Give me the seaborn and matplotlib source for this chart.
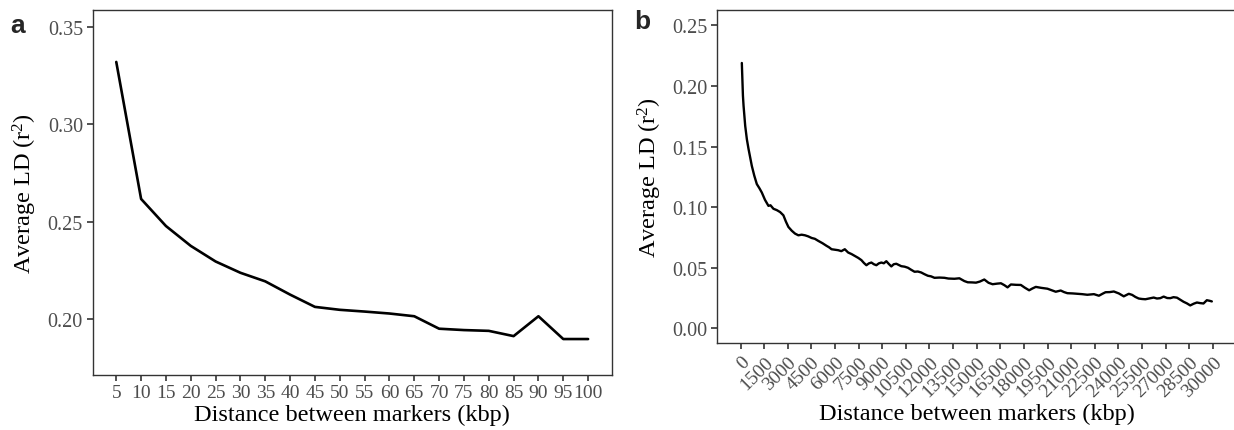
import matplotlib
matplotlib.use('Agg')
import matplotlib.pyplot as plt
import seaborn as sns

# Panel a: average LD for short distances (kbp)
dist_a = [5, 10, 15, 20, 25, 30, 35, 40, 45, 50, 55, 60, 65, 70, 75, 80, 85, 90, 95, 100]
ld_a = [0.332, 0.2617, 0.2478, 0.2376, 0.2296, 0.2238, 0.2194, 0.2126, 0.2063, 0.2048,
        0.2039, 0.2029, 0.2015, 0.1951, 0.1944, 0.1940, 0.1913, 0.2015, 0.1898, 0.1898]

# Panel b: average LD for long distances (kbp)
dist_b = [80, 150, 190, 295, 400, 506, 715, 870, 1032, 1200, 1350, 1550, 1772, 1900, 2088,
          2300, 2510, 2721, 2880, 3038, 3250, 3460, 3671, 3880, 4093, 4300, 4514, 4720, 4936,
          5200, 5462, 5620, 5779, 6000, 6200, 6400, 6621, 6832, 7050, 7254, 7480, 7676, 7840,
          7993, 8150, 8310, 8470, 8626, 8780, 8943, 9100, 9259, 9420, 9575, 9730, 9892, 10050,
          10209, 10420, 10631, 10840, 11052, 11260, 11474, 11680, 11896, 12100, 12318, 12630,
          12950, 13200, 13583, 13900, 14216, 14430, 14700, 14955, 15200, 15482, 15750, 16010,
          16300, 16538, 16760, 16960, 17171, 17500, 17804, 18050, 18330, 18540, 18754, 19100,
          19494, 19750, 20019, 20336, 20550, 20759, 21100, 21392, 21700, 22025, 22446, 22762,
          23000, 23183, 23450, 23710, 24026, 24342, 24660, 24873, 25080, 25290, 25500, 25715,
          26000, 26241, 26450, 26664, 26875, 27100, 27298, 27500, 27720, 27940, 28140, 28350,
          28564, 28780, 28987, 29200, 29405, 29618, 29800, 29935]
ld_b = [0.219, 0.192, 0.1836, 0.167, 0.156, 0.148, 0.134, 0.126, 0.119, 0.1155, 0.112, 0.106,
        0.101, 0.1015, 0.0986, 0.0975, 0.0959, 0.0932, 0.088, 0.0836, 0.0805, 0.0781, 0.0767,
        0.0772, 0.0767, 0.0758, 0.0745, 0.0738, 0.0721, 0.0702, 0.068, 0.0668, 0.0652, 0.0648,
        0.0644, 0.0636, 0.0652, 0.0625, 0.0612, 0.0597, 0.058, 0.0562, 0.0538, 0.052, 0.0535,
        0.0542, 0.0528, 0.052, 0.0535, 0.0542, 0.0536, 0.0553, 0.053, 0.051, 0.0528, 0.0532,
        0.0522, 0.0512, 0.0508, 0.0499, 0.0482, 0.0466, 0.0468, 0.046, 0.0446, 0.0433, 0.0428,
        0.0416, 0.0418, 0.0416, 0.041, 0.0408, 0.0412, 0.0389, 0.0379, 0.0378, 0.0376, 0.0385,
        0.0402, 0.0375, 0.0363, 0.0368, 0.0371, 0.0355, 0.0337, 0.0361, 0.0358, 0.0357, 0.0335,
        0.0313, 0.0328, 0.0341, 0.0333, 0.0326, 0.0314, 0.0301, 0.0311, 0.0298, 0.0289, 0.0287,
        0.0284, 0.0281, 0.0276, 0.0281, 0.0268, 0.0285, 0.0297, 0.0298, 0.0303, 0.0287, 0.0263,
        0.0284, 0.0275, 0.0258, 0.0245, 0.0241, 0.0239, 0.0247, 0.0253, 0.0245, 0.0248, 0.0261,
        0.0249, 0.0248, 0.0256, 0.0252, 0.0234, 0.0218, 0.0205, 0.0188, 0.0202, 0.0212, 0.0207,
        0.0204, 0.0231, 0.0226, 0.0221]

ticks_a = list(range(5, 101, 5))
ticks_b = list(range(0, 30001, 1500))
yticks_a = [0.20, 0.25, 0.30, 0.35]
yticks_b = [0.00, 0.05, 0.10, 0.15, 0.20, 0.25]

sns.set_style('white')
plt.rcParams['font.family'] = ['Liberation Serif', 'DejaVu Serif']
plt.rcParams['mathtext.fontset'] = 'custom'
plt.rcParams['mathtext.rm'] = 'Liberation Serif'
plt.rcParams['mathtext.it'] = 'Liberation Serif:italic'

fig = plt.figure(figsize=(12.34, 4.31), dpi=100)
ax1 = fig.add_axes([0.0751, 0.1283, 0.4206, 0.8455])
ax2 = fig.add_axes([0.5810, 0.2011, 0.4210, 0.7727])

sns.lineplot(x=dist_a, y=ld_a, ax=ax1, color='black', linewidth=1.9)
sns.lineplot(x=dist_b, y=ld_b, ax=ax2, color='black', linewidth=1.7)

ax1.set_xlim(0.25, 104.75)
ax1.set_ylim(0.1715, 0.3585)
ax1.set_xticks(ticks_a)
ax1.set_xticklabels([str(t) for t in ticks_a])
ax1.set_yticks(yticks_a)
ax1.set_yticklabels(['%.2f' % t for t in yticks_a])

ax2.set_xlim(-1500, 31500)
ax2.set_ylim(-0.0125, 0.2625)
ax2.set_xticks(ticks_b)
ax2.set_xticklabels([str(t) for t in ticks_b], rotation=45, ha='right', va='top',
                    rotation_mode='anchor')
ax2.set_yticks(yticks_b)
ax2.set_yticklabels(['%.2f' % t for t in yticks_b])

for ax in [ax1, ax2]:
    ax.set_xlabel('Distance between markers (kbp)', fontsize=17.5, color='black', labelpad=2)
    ax.set_ylabel(r'Average LD (r$^{\mathrm{2}}$)', fontsize=17.5, color='black', labelpad=6)
    ax.tick_params(axis='both', direction='out', length=4, width=1.2, color='#333333',
                   labelsize=14.5, labelcolor='#4D4D4D', pad=3, bottom=True, left=True)
    ax.tick_params(axis='x', labelsize=14)
    for s in ax.spines.values():
        s.set_color('#333333')
        s.set_linewidth(1.0)
    ax.grid(False)

fig.text(0.008, 0.94, 'a', fontsize=19, fontweight='bold', family='Liberation Sans',
         va='center')
fig.text(0.514, 0.948, 'b', fontsize=19, fontweight='bold', family='Liberation Sans',
         va='center')

plt.savefig('out.png', dpi=100)
